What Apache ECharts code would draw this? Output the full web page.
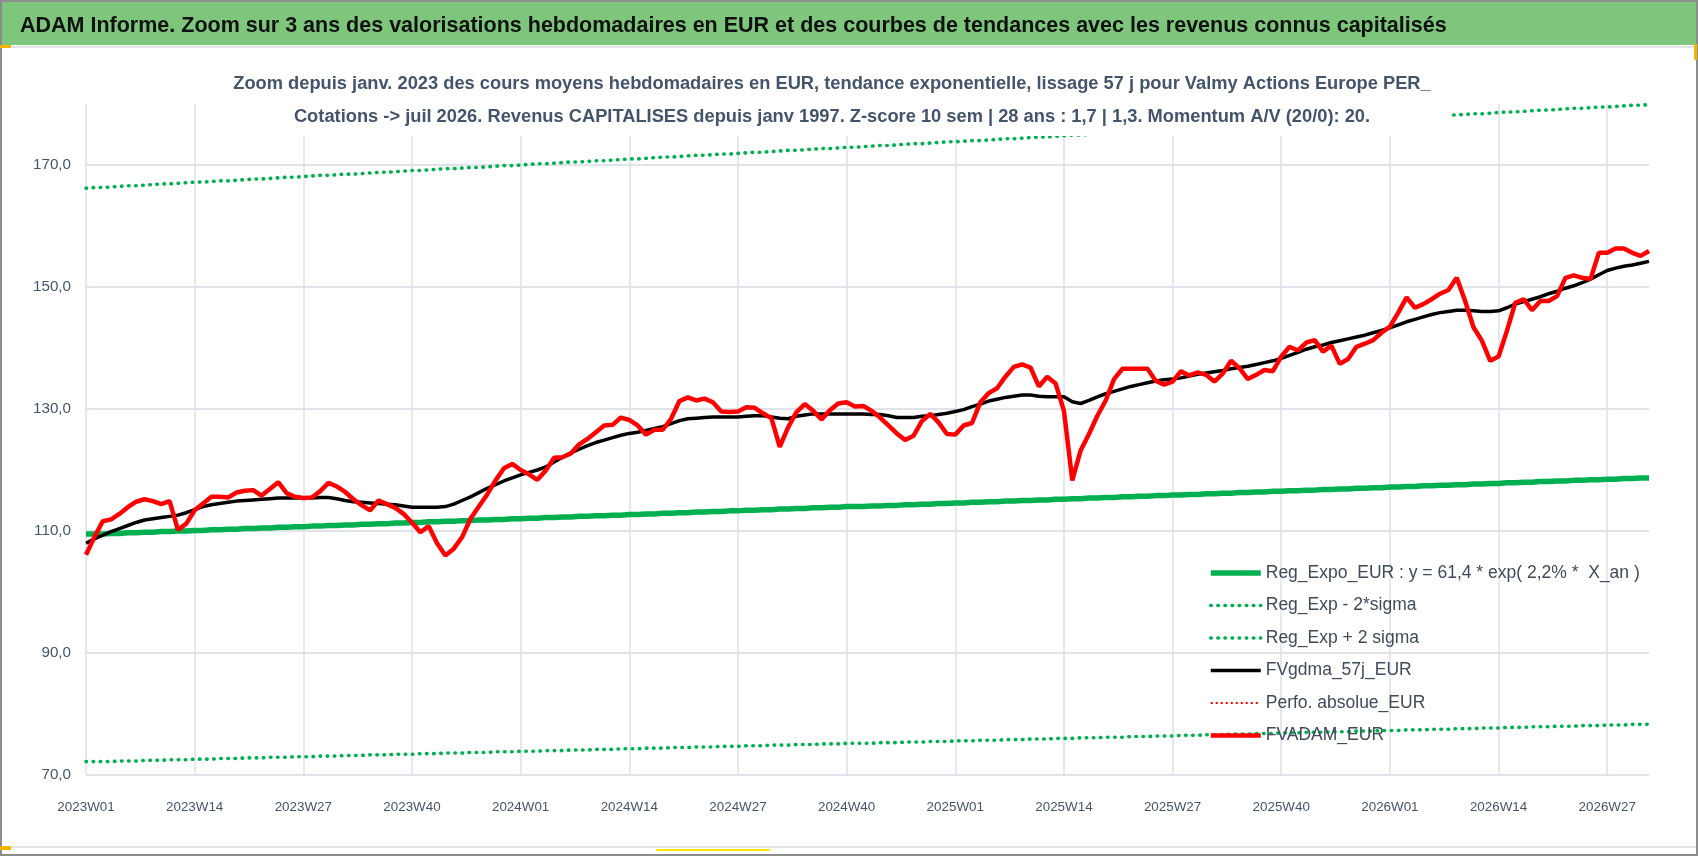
<!DOCTYPE html>
<html>
<head>
<meta charset="utf-8">
<title>ADAM Informe - Valmy Actions Europe PER</title>
<script src="https://cdn.jsdelivr.net/npm/echarts@6.0.0/dist/echarts.min.js"></script>
<style>
  html, body { margin: 0; padding: 0; background: #fff; }
  #main { width: 1698px; height: 856px; }
</style>
</head>
<body>
<div id="main"></div>
<script>
// semaines ISO affichees : 2023W01 -> 2026W32
var weekYears = [2023, 2024, 2025, 2026];
var weeksInYear = [52, 52, 52, 32];

var yTicks = [70, 90, 110, 130, 150, 170];

var legendNames = [
  'Reg_Expo_EUR : y = 61,4 * exp( 2,2% *  X_an )',
  'Reg_Exp - 2*sigma',
  'Reg_Exp + 2 sigma',
  'FVgdma_57j_EUR',
  'Perfo. absolue_EUR',
  'FVADAM_EUR'
];

// tendance exponentielle (vert epais)
var regExpo = [
  109.5,109.5,109.5,
  109.6,109.6,109.7,109.7,109.8,109.8,109.9,109.9,110.0,110.0,
  110.1,110.1,110.2,110.2,110.3,110.3,110.4,110.4,110.5,110.5,110.6,110.6,110.7,110.7,110.8,110.8,110.9,110.9,111.0,111.0,
  111.1,111.1,111.2,111.2,111.3,111.3,111.4,111.4,111.5,111.5,111.6,111.6,111.7,111.7,111.8,111.8,111.9,111.9,112.0,112.0,
  112.1,112.1,112.2,112.2,112.3,112.3,112.4,112.4,112.5,112.5,112.6,112.6,112.7,112.7,112.8,112.8,112.9,112.9,113.0,113.0,
  113.1,113.1,113.2,113.2,113.3,113.3,113.4,113.4,113.5,113.5,113.6,113.6,113.7,113.7,113.8,113.8,113.9,113.9,
  114.0,114.0,114.0,
  114.1,114.1,114.2,114.2,114.3,114.3,114.4,114.4,114.5,114.5,114.6,114.6,114.7,114.7,114.8,114.8,114.9,114.9,115.0,115.0,
  115.1,115.1,115.2,115.2,115.3,115.3,115.4,115.4,115.5,115.5,115.6,115.6,115.7,115.7,115.8,115.8,115.9,115.9,116.0,116.0,
  116.1,116.1,116.2,116.2,116.3,116.3,116.4,116.4,116.5,116.5,116.6,116.6,116.7,116.7,116.8,116.8,116.9,116.9,117.0,117.0,
  117.1,117.1,117.2,117.2,117.3,117.3,117.4,117.4,117.5,117.5,117.6,117.6,117.7,117.7,117.8,117.8,117.9,117.9,118.0,118.0,
  118.1,118.1,118.2,118.2,118.3,118.3,118.4,118.4,118.5,118.5,118.6,118.6,118.7,118.7
];

// Reg_Exp - 2*sigma (vert pointille bas)
var regMinus = [
  72.2,72.2,72.2,72.2,
  72.3,72.3,72.3,72.4,72.4,72.4,72.5,72.5,72.5,72.6,72.6,72.6,72.7,72.7,72.7,72.8,72.8,72.8,72.9,72.9,72.9,73.0,73.0,73.0,
  73.1,73.1,73.1,73.2,73.2,73.2,73.3,73.3,73.3,73.4,73.4,73.4,73.5,73.5,73.5,73.6,73.6,73.6,73.7,73.7,73.7,73.8,73.8,73.8,73.9,73.9,73.9,74.0,74.0,74.0,
  74.1,74.1,74.1,74.2,74.2,74.2,74.3,74.3,74.3,74.4,74.4,74.4,74.5,74.5,74.5,74.6,74.6,74.6,74.7,74.7,74.7,74.8,74.8,74.8,74.9,74.9,74.9,75.0,75.0,75.0,
  75.1,75.1,75.1,
  75.2,75.2,75.2,75.2,
  75.3,75.3,75.3,75.4,75.4,75.4,75.5,75.5,75.5,75.6,75.6,75.6,75.7,75.7,75.7,75.8,75.8,75.8,75.9,75.9,75.9,76.0,76.0,76.0,
  76.1,76.1,76.1,76.2,76.2,76.2,76.3,76.3,76.3,76.4,76.4,76.4,76.5,76.5,76.5,76.6,76.6,76.6,76.7,76.7,76.7,76.8,76.8,76.8,76.9,76.9,76.9,77.0,77.0,77.0,
  77.1,77.1,77.1,77.2,77.2,77.2,77.3,77.3,77.3,77.4,77.4,77.4,77.5,77.5,77.5,77.6,77.6,77.6,77.7,77.7,77.7,77.8,77.8,77.8,77.9,77.9,77.9,78.0,78.0,78.0,
  78.1,78.1,78.1,78.2,78.2,78.2,78.3,78.3,78.3
];

// Reg_Exp + 2 sigma (vert pointille haut)
var regPlus = [
  166.2,166.3,166.3,166.4,166.5,166.6,166.6,166.7,166.8,166.9,166.9,167.0,167.1,167.2,167.2,
  167.3,167.4,167.4,167.5,167.6,167.7,167.7,167.8,167.9,168.0,168.0,168.1,168.2,168.3,168.3,
  168.4,168.5,168.5,168.6,168.7,168.8,168.8,168.9,169.0,169.1,169.1,169.2,169.3,169.4,169.4,
  169.5,169.6,169.6,169.7,169.8,169.9,169.9,170.0,170.1,170.2,170.2,170.3,170.4,170.5,170.5,
  170.6,170.7,170.7,170.8,170.9,171.0,171.0,171.1,171.2,171.3,171.3,171.4,171.5,171.6,171.6,
  171.7,171.8,171.8,171.9,172.0,172.1,172.1,172.2,172.3,172.4,172.4,172.5,172.6,172.7,172.7,
  172.8,172.9,172.9,173.0,173.1,173.2,173.2,173.3,173.4,173.5,173.5,173.6,173.7,173.8,173.8,
  173.9,174.0,174.0,174.1,174.2,174.3,174.3,174.4,174.5,174.6,174.6,174.7,174.8,174.9,174.9,
  175.0,175.1,175.1,175.2,175.3,175.4,175.4,175.5,175.6,175.7,175.7,175.8,175.9,176.0,176.0,
  176.1,176.2,176.2,176.3,176.4,176.5,176.5,176.6,176.7,176.8,176.8,176.9,177.0,177.1,177.1,
  177.2,177.3,177.3,177.4,177.5,177.6,177.6,177.7,177.8,177.9,177.9,178.0,178.1,178.2,178.2,
  178.3,178.4,178.4,178.5,178.6,178.7,178.7,178.8,178.9,179.0,179.0,179.1,179.2,179.3,179.3,
  179.4,179.5,179.5,179.6,179.7,179.8,179.8,179.9
];

// FVgdma_57j_EUR (noir, lissage 57 j)
var fvGdma = [
  108.0,108.7,109.3,109.9,110.4,110.9,111.4,111.8,112.0,112.2,
  112.4,112.6,113.0,113.5,114.0,114.3,114.5,114.7,114.9,115.0,
  115.1,115.2,115.3,115.4,115.4,115.4,115.4,115.4,115.5,115.5,
  115.3,115.0,114.8,114.7,114.6,114.5,114.4,114.3,114.1,113.9,
  113.9,113.9,113.9,114.0,114.4,115.0,115.6,116.3,117.0,117.6,
  118.2,118.7,119.2,119.6,120.0,120.5,121.3,122.1,122.8,123.4,
  124.0,124.5,124.9,125.3,125.7,126.0,126.2,126.5,126.8,127.1,
  127.6,128.1,128.4,128.5,128.6,128.7,128.7,128.7,128.7,128.8,
  128.9,128.9,128.7,128.5,128.4,128.8,129.0,129.2,129.2,129.2,
  129.2,129.2,129.2,129.2,129.1,129.1,128.9,128.6,128.6,128.6,
  128.8,128.9,129.1,129.3,129.6,129.9,130.4,130.8,131.3,131.6,
  131.9,132.1,132.3,132.3,132.1,132.0,132.0,132.0,131.2,130.9,
  131.4,132.0,132.5,132.9,133.3,133.7,134.0,134.3,134.6,134.8,
  134.9,135.1,135.4,135.7,135.9,136.1,136.3,136.6,136.8,137.0,
  137.3,137.6,137.9,138.3,138.8,139.3,139.8,140.2,140.5,140.9,
  141.2,141.5,141.8,142.1,142.5,142.9,143.3,143.8,144.3,144.7,
  145.1,145.5,145.8,146.0,146.2,146.2,146.1,146.0,146.0,146.1,
  146.6,147.2,147.6,148.0,148.4,148.9,149.3,149.8,150.2,150.7,
  151.3,152.0,152.7,153.1,153.4,153.6,153.9,154.2
];

// Perfo. absolue_EUR : hors du zoom, seulement dans la legende
var perfoAbsolue = [];

// FVADAM_EUR (rouge, cours moyens hebdo)
var fvAdam = [
  106.1,109.0,111.6,111.9,112.8,113.9,114.8,115.2,114.9,114.4,
  114.9,110.2,111.2,113.4,114.5,115.6,115.6,115.5,116.3,116.6,
  116.7,115.8,116.9,118.0,116.2,115.6,115.4,115.5,116.5,117.9,
  117.3,116.4,115.2,114.2,113.4,115.0,114.4,113.8,112.8,111.4,
  109.8,110.8,108.0,106.0,107.1,109.0,112.0,114.0,116.0,118.3,
  120.3,121.0,120.0,119.3,118.4,119.9,122.0,122.1,122.7,124.2,
  125.1,126.2,127.3,127.4,128.6,128.2,127.3,125.8,126.6,126.6,
  128.4,131.3,131.9,131.4,131.7,131.1,129.6,129.5,129.6,130.3,
  130.2,129.3,128.5,123.8,127.0,129.5,130.8,129.7,128.3,129.8,
  130.9,131.1,130.4,130.5,129.7,128.6,127.3,126.0,124.9,125.6,
  128.0,129.2,127.8,125.9,125.8,127.3,127.7,131.1,132.6,133.4,
  135.3,136.9,137.3,136.8,133.7,135.3,134.2,129.7,118.3,123.2,
  125.9,128.9,131.4,134.9,136.6,136.6,136.6,136.6,134.6,134.0,
  134.5,136.2,135.5,136.0,135.6,134.5,135.8,137.9,136.7,134.9,
  135.6,136.4,136.2,138.6,140.2,139.6,140.9,141.3,139.4,140.4,
  137.4,138.2,140.2,140.7,141.3,142.5,143.5,145.8,148.3,146.6,
  147.2,148.0,148.9,149.5,151.5,147.7,143.4,141.2,137.9,138.6,
  142.8,147.4,148.0,146.2,147.7,147.7,148.5,151.5,151.9,151.5,
  151.3,155.6,155.6,156.3,156.3,155.6,155.1,155.9
];

var weeks = [];
for (var y = 0; y < weekYears.length; y++) {
  for (var w = 1; w <= weeksInYear[y]; w++) {
    weeks.push(weekYears[y] + 'W' + (w < 10 ? '0' + w : w));
  }
}

var FONT = "'Liberation Sans', Arial, sans-serif";
var GREEN = '#00b050';

var myChart = echarts.init(document.getElementById('main'), null, { renderer: 'canvas' });

var option = {
  animation: false,
  backgroundColor: '#ffffff',
  textStyle: { fontFamily: FONT },
  graphic: [
    { type: 'rect', shape: { x: 0, y: 2, width: 1698, height: 43 }, style: { fill: '#7dc67b' }, z: 0 },
    { type: 'rect', shape: { x: 0, y: 46, width: 1698, height: 2 }, style: { fill: '#e3e3e3' }, z: 0 },
    { type: 'rect', shape: { x: 0, y: 846, width: 1698, height: 2 }, style: { fill: '#e3e3e3' }, z: 0 },
    { type: 'rect', shape: { x: 1, y: 1, width: 1696, height: 854 }, style: { fill: null, stroke: '#8c8c8c', lineWidth: 2 }, z: 100 },
    { type: 'rect', shape: { x: 0, y: 45, width: 11, height: 3 }, style: { fill: '#f2b705' }, z: 100 },
    { type: 'rect', shape: { x: 1694, y: 44, width: 3, height: 16 }, style: { fill: '#f2b705' }, z: 100 },
    { type: 'rect', shape: { x: 0, y: 846, width: 11, height: 4 }, style: { fill: '#f2b705' }, z: 100 },
    { type: 'rect', shape: { x: 656, y: 849, width: 114, height: 2 }, style: { fill: '#ffe600' }, z: 100 }
  ],
  title: [
    {
      text: 'ADAM Informe. Zoom sur 3 ans des valorisations hebdomadaires en EUR et des courbes de tendances avec les revenus connus capitalisés',
      left: 15,
      top: 10,
      textStyle: { fontFamily: FONT, fontSize: 21.5, fontWeight: 'bold', color: '#111111' }
    },
    {
      text: 'Zoom depuis janv. 2023 des cours moyens hebdomadaires en EUR, tendance exponentielle, lissage 57 j pour Valmy Actions Europe PER_\n' +
            'Cotations -> juil 2026. Revenus CAPITALISES depuis janv 1997. Z-score 10 sem | 28 ans : 1,7 | 1,3. Momentum A/V (20/0): 20.',
      left: 812,
      top: 64,
      textAlign: 'center',
      backgroundColor: '#ffffff',
      padding: [3, 20],
      textStyle: { fontFamily: FONT, fontSize: 18.3, fontWeight: 'bold', color: '#44546a', lineHeight: 33 }
    }
  ],
  legend: {
    orient: 'vertical',
    left: 1203,
    top: 557,
    itemWidth: 50,
    itemHeight: 14,
    itemGap: 10.5,
    data: legendNames,
    itemStyle: { opacity: 0 },
    lineStyle: { width: 'inherit' },
    textStyle: { fontFamily: FONT, fontSize: 17.5, color: '#404a5a', lineHeight: 22 }
  },
  grid: { left: 86, right: 49, top: 104, bottom: 81, containLabel: false },
  xAxis: {
    type: 'category',
    data: weeks,
    boundaryGap: false,
    axisLine: { show: false },
    axisTick: { show: false },
    axisLabel: { interval: 12, margin: 26, fontSize: 13.4, color: '#44546a', fontFamily: FONT },
    splitLine: { show: true, interval: 12, lineStyle: { color: '#dde2ea', width: 1.5 } }
  },
  yAxis: {
    type: 'value',
    min: 70,
    max: 180,
    axisLine: { show: false },
    axisTick: { show: false, customValues: yTicks },
    axisLabel: {
      customValues: yTicks,
      margin: 15,
      fontSize: 15.2,
      color: '#44546a',
      fontFamily: FONT,
      formatter: function (v) { return v.toFixed(1).replace('.', ','); }
    },
    splitLine: { show: true, lineStyle: { color: '#e0e3e9', width: 2 } }
  },
  series: [
    {
      name: legendNames[0], type: 'line', data: regExpo, symbol: 'none',
      lineStyle: { color: GREEN, width: 5.5 }, itemStyle: { color: GREEN }
    },
    {
      name: legendNames[1], type: 'line', data: regMinus, symbol: 'none',
      lineStyle: { color: GREEN, width: 3.6, type: [0.5, 6.6], cap: 'round' }, itemStyle: { color: GREEN }
    },
    {
      name: legendNames[2], type: 'line', data: regPlus, symbol: 'none',
      lineStyle: { color: GREEN, width: 3.6, type: [0.5, 6.6], cap: 'round' }, itemStyle: { color: GREEN }
    },
    {
      name: legendNames[3], type: 'line', data: fvGdma, symbol: 'none',
      lineStyle: { color: '#000000', width: 3.5 }, itemStyle: { color: '#000000' }
    },
    {
      name: legendNames[4], type: 'line', data: perfoAbsolue, symbol: 'none',
      lineStyle: { color: '#ff0000', width: 2.2, type: [2, 3] }, itemStyle: { color: '#ff0000' }
    },
    {
      name: legendNames[5], type: 'line', data: fvAdam, symbol: 'none',
      lineStyle: { color: '#ff0000', width: 4.5 }, itemStyle: { color: '#ff0000' }
    }
  ]
};

myChart.setOption(option);
</script>
</body>
</html>
